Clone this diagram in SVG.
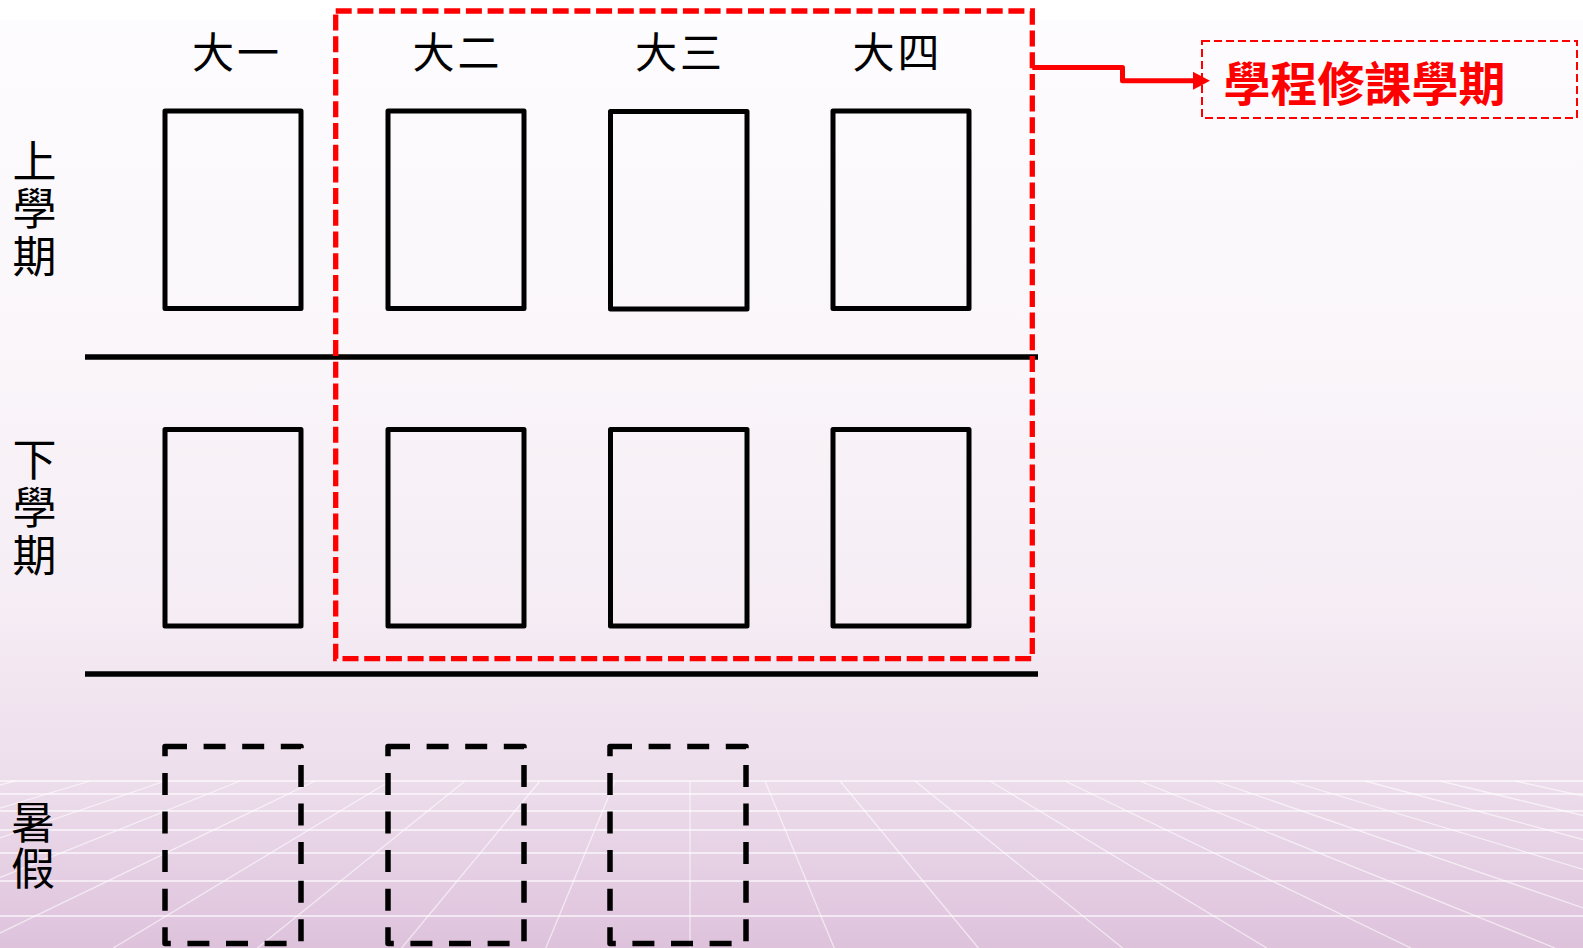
<svg xmlns="http://www.w3.org/2000/svg" width="1583" height="948" viewBox="0 0 1583 948">
  <defs>
    <linearGradient id="bg" x1="0" y1="0" x2="0" y2="948" gradientUnits="userSpaceOnUse">
      <stop offset="0" stop-color="#FDFCFE"/>
      <stop offset="0.37" stop-color="#FAF6FA"/>
      <stop offset="0.65" stop-color="#F5ECF4"/>
      <stop offset="0.82" stop-color="#EDDEEC"/>
      <stop offset="1" stop-color="#DEC2DC"/>
    </linearGradient>
    <marker id="arrow" viewBox="0 0 17 18" markerWidth="17" markerHeight="18" markerUnits="userSpaceOnUse" refX="0" refY="9" orient="auto">
      <path d="M0,0 L17,9 L0,18 z" fill="#FF0000"/>
    </marker>
    <style>
      .box { fill: none; stroke: #000; stroke-width: 5; stroke-linejoin: round; }
      .dbox { fill: none; stroke: #000; stroke-width: 5.5; stroke-dasharray: 22 16.6; stroke-linejoin: round; }
      .rule { stroke: #000; stroke-width: 5.5; }
      .hdr { font-family: "Noto Sans CJK TC", "Noto Sans CJK SC", sans-serif; font-size: 42px; fill: #000; text-anchor: middle; letter-spacing: 3px; }
      .row { font-family: "Noto Sans CJK TC", "Noto Sans CJK SC", sans-serif; font-size: 44px; fill: #000; writing-mode: vertical-rl; text-orientation: upright; }
      .gh { stroke: #FFFFFF; stroke-opacity: 0.6; stroke-width: 2; }
      .gr { stroke: #FFFFFF; stroke-opacity: 0.6; stroke-width: 1.3; }
    </style>
  </defs>

  <g id="background">
    <rect x="0" y="0" width="1583" height="948" fill="url(#bg)"/>
    <rect x="0" y="0" width="1583" height="20" fill="#FFFFFF"/>
  </g>

  <g id="grid">
    <line class="gh" x1="0" y1="781" x2="1583" y2="781"/>
    <line class="gh" x1="0" y1="794" x2="1583" y2="794"/>
    <line class="gh" x1="0" y1="811" x2="1583" y2="811"/>
    <line class="gh" x1="0" y1="830" x2="1583" y2="830"/>
    <line class="gh" x1="0" y1="853" x2="1583" y2="853"/>
    <line class="gh" x1="0" y1="881" x2="1583" y2="881"/>
    <line class="gh" x1="0" y1="916" x2="1583" y2="916"/>
    <line class="gr" x1="15" y1="781" x2="-607.8" y2="948"/>
    <line class="gr" x1="90" y1="781" x2="-463.6" y2="948"/>
    <line class="gr" x1="165" y1="781" x2="-319.4" y2="948"/>
    <line class="gr" x1="240" y1="781" x2="-175.2" y2="948"/>
    <line class="gr" x1="315" y1="781" x2="-31" y2="948"/>
    <line class="gr" x1="390" y1="781" x2="113.2" y2="948"/>
    <line class="gr" x1="465" y1="781" x2="257.4" y2="948"/>
    <line class="gr" x1="540" y1="781" x2="401.6" y2="948"/>
    <line class="gr" x1="615" y1="781" x2="545.8" y2="948"/>
    <line class="gr" x1="690" y1="781" x2="690" y2="948"/>
    <line class="gr" x1="765" y1="781" x2="834.2" y2="948"/>
    <line class="gr" x1="840" y1="781" x2="978.4" y2="948"/>
    <line class="gr" x1="915" y1="781" x2="1122.6" y2="948"/>
    <line class="gr" x1="990" y1="781" x2="1266.8" y2="948"/>
    <line class="gr" x1="1065" y1="781" x2="1411" y2="948"/>
    <line class="gr" x1="1140" y1="781" x2="1555.2" y2="948"/>
    <line class="gr" x1="1215" y1="781" x2="1699.4" y2="948"/>
    <line class="gr" x1="1290" y1="781" x2="1843.6" y2="948"/>
    <line class="gr" x1="1365" y1="781" x2="1987.8" y2="948"/>
    <line class="gr" x1="1440" y1="781" x2="2132" y2="948"/>
    <line class="gr" x1="1515" y1="781" x2="2276.2" y2="948"/>
  </g>

  <g id="headers">
    <text class="hdr" x="237" y="68">大一</text>
    <text class="hdr" x="457.5" y="68">大二</text>
    <text class="hdr" x="680" y="68">大三</text>
    <text class="hdr" x="897.5" y="68">大四</text>
  </g>

  <g id="row-labels">
    <text class="row" x="34.5" y="139" letter-spacing="3.5">上學期</text>
    <text class="row" x="34.5" y="437" letter-spacing="4">下學期</text>
    <text class="row" x="33" y="800" letter-spacing="2">暑假</text>
  </g>

  <g id="rules">
    <line class="rule" x1="85" y1="357" x2="1038" y2="357"/>
    <line class="rule" x1="85" y1="674" x2="1038" y2="674"/>
  </g>

  <g id="box-y1-s1"><rect class="box" x="165" y="111" width="136" height="197.5"/></g>
  <g id="box-y2-s1"><rect class="box" x="388" y="111" width="136" height="197.5"/></g>
  <g id="box-y3-s1"><rect class="box" x="610.5" y="111.5" width="136.5" height="197.5"/></g>
  <g id="box-y4-s1"><rect class="box" x="833" y="111" width="136" height="197.5"/></g>

  <g id="box-y1-s2"><rect class="box" x="165" y="429.5" width="136" height="196.5"/></g>
  <g id="box-y2-s2"><rect class="box" x="388" y="429.5" width="136" height="196.5"/></g>
  <g id="box-y3-s2"><rect class="box" x="610.5" y="429.5" width="136.5" height="196.5"/></g>
  <g id="box-y4-s2"><rect class="box" x="833" y="429.5" width="136" height="196.5"/></g>

  <g id="box-y1-summer"><rect class="dbox" x="165" y="746.5" width="136" height="197"/></g>
  <g id="box-y2-summer"><rect class="dbox" x="388" y="746.5" width="136" height="197"/></g>
  <g id="box-y3-summer"><rect class="dbox" x="610" y="746.5" width="136" height="197"/></g>

  <g id="program-range">
    <rect x="335.7" y="11" width="696.6" height="647.7" fill="none" stroke="#FF0000" stroke-width="5.3" stroke-dasharray="16 5.7"/>
  </g>

  <g id="program-label">
    <rect x="1202" y="41" width="375" height="77" fill="none" stroke="#FF0000" stroke-width="2" stroke-dasharray="8 4"/>
    <text x="1364.5" y="100.5" font-family="Noto Sans CJK TC, Noto Sans CJK SC, sans-serif" font-size="47" font-weight="bold" fill="#FF0000" text-anchor="middle">學程修課學期</text>
  </g>

  <g id="connectors">
    <path d="M1032.3,67.5 H1122.5 V80.8 H1193" fill="none" stroke="#FF0000" stroke-width="5" stroke-linejoin="round" marker-end="url(#arrow)"/>
  </g>
</svg>
